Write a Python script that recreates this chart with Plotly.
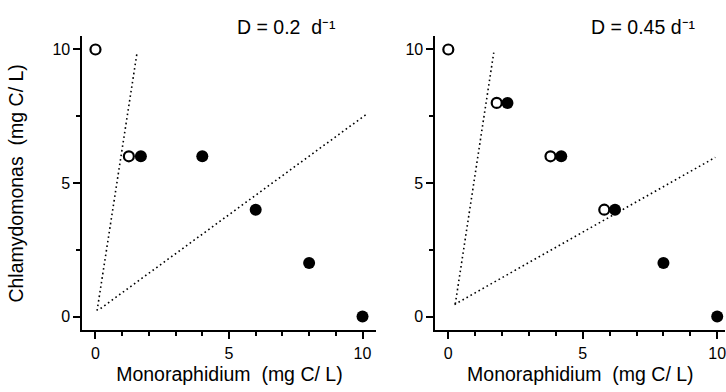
import plotly.graph_objects as go

# ---- data ----
left_open_x = [0, 1.25]
left_open_y = [10, 6]
left_filled_x = [1.7, 4, 6, 8, 10]
left_filled_y = [6, 6, 4, 2, 0]
left_lineA_x = [0.06, 1.56]
left_lineA_y = [0.22, 9.9]
left_lineB_x = [0.19, 10.17]
left_lineB_y = [0.3, 7.59]

right_open_x = [0, 1.8, 3.8, 5.8]
right_open_y = [10, 8, 6, 4]
right_filled_x = [2.2, 4.2, 6.2, 8, 10]
right_filled_y = [8, 6, 4, 2, 0]
right_lineA_x = [0.26, 1.69]
right_lineA_y = [0.47, 9.88]
right_lineB_x = [0.23, 9.93]
right_lineB_y = [0.45, 5.96]

tick_vals = [0, 5, 10]
tick_text = ["0", "5", "10"]
panel_titles = ["D = 0.2  d\u207b\u00b9", "D = 0.45 d\u207b\u00b9"]
x_title = "Monoraphidium  (mg C/ L)"
y_title = "Chlamydomonas  (mg C/ L)"

W, H = 726, 392
FONT = "Liberation Sans, Arial, Helvetica, sans-serif"

x_ranges = [[-0.49, 10.52], [-0.48, 10.3]]
y_range = [-0.52, 10.49]
x_domains = [[82.4 / W, 376.4 / W], [435.4 / W, 0.999]]
y_domain = [61.6 / H, 355.6 / H]

fig = go.Figure()


def add_panel(xa, ya, ox, oy, fx, fy, lax, lay, lbx, lby):
    for lx, ly in ((lax, lay), (lbx, lby)):
        fig.add_trace(go.Scatter(x=lx, y=ly, mode="lines", xaxis=xa, yaxis=ya,
                                 line=dict(color="black", width=1.6, dash="1.6px,3px"),
                                 showlegend=False, hoverinfo="skip"))
    fig.add_trace(go.Scatter(x=ox, y=oy, mode="markers", xaxis=xa, yaxis=ya,
                             marker=dict(symbol="circle-open", size=10, color="black",
                                         line=dict(width=2.2)),
                             showlegend=False))
    fig.add_trace(go.Scatter(x=fx, y=fy, mode="markers", xaxis=xa, yaxis=ya,
                             marker=dict(symbol="circle", size=12, color="black"),
                             showlegend=False))


add_panel("x", "y", left_open_x, left_open_y, left_filled_x, left_filled_y,
          left_lineA_x, left_lineA_y, left_lineB_x, left_lineB_y)
add_panel("x2", "y2", right_open_x, right_open_y, right_filled_x, right_filled_y,
          right_lineA_x, right_lineA_y, right_lineB_x, right_lineB_y)


def common_axis():
    return dict(showline=True, linecolor="black", linewidth=2,
                ticks="outside", ticklen=7, tickwidth=2, tickcolor="black",
                tickmode="array", tickvals=tick_vals, ticktext=tick_text,
                showgrid=False, zeroline=False, automargin=False,
                ticklabeloverflow="allow",
                tickfont=dict(family=FONT, size=16, color="black"))


def xaxis(i, anchor):
    d = common_axis()
    d.update(domain=x_domains[i], range=x_ranges[i], anchor=anchor,
             title=dict(text=x_title, standoff=7,
                        font=dict(family=FONT, size=19.5, color="black")),
             minor=dict(tick0=0, dtick=1, ticks="outside", ticklen=4,
                        tickwidth=1.6, tickcolor="black", showgrid=False))
    return d


def yaxis(anchor, title):
    d = common_axis()
    d.update(domain=y_domain, range=y_range, anchor=anchor,
             minor=dict(tick0=0, dtick=2.5, ticks="outside", ticklen=4, tickwidth=1.6,
                        tickcolor="black", showgrid=False))
    if title:
        d["title"] = dict(text=y_title, standoff=24,
                          font=dict(family=FONT, size=19.5, color="black"))
    return d


annotations = [
    dict(text=panel_titles[0], x=338 / W, y=1 - 27 / H, xanchor="right", yanchor="middle"),
    dict(text=panel_titles[1], x=698 / W, y=1 - 27 / H, xanchor="right", yanchor="middle"),
]
for a in annotations:
    a.update(xref="paper", yref="paper", showarrow=False,
             font=dict(family=FONT, size=19.5, color="black"))

fig.update_layout(
    width=W, height=H, margin=dict(l=0, r=0, t=0, b=0),
    paper_bgcolor="white", plot_bgcolor="white", showlegend=False,
    xaxis=xaxis(0, "y"),
    yaxis=yaxis("x", True),
    xaxis2=xaxis(1, "y2"),
    yaxis2=yaxis("x2", False),
    annotations=annotations,
)

fig.write_html("out.html")
